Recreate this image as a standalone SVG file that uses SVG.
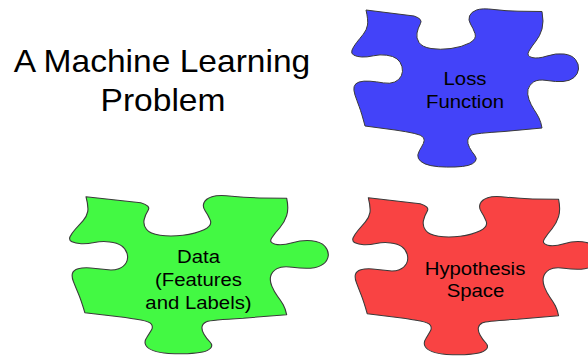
<svg xmlns="http://www.w3.org/2000/svg" xmlns:xlink="http://www.w3.org/1999/xlink" width="588" height="364" viewBox="0 0 588 364">
<style>
.piece{stroke:#3a3a3a;stroke-width:1;stroke-linejoin:round;vector-effect:non-scaling-stroke}
.lbl{font-family:"Liberation Sans",Arial,Helvetica,sans-serif;font-size:18.5px;fill:#000;text-anchor:middle}
.title{font-family:"Liberation Sans",Arial,Helvetica,sans-serif;font-size:30.5px;fill:#000;text-anchor:middle}
</style>
<defs>
<path id="piece" d="M0,0 L48,6 Q57,9 54.5,13.5 Q52,18 51,23 Q50,28 53,32.5 Q56,37 65,38.5 Q74,40 85,38.5 Q96,37 103.5,33 Q111,29 109,23.5 Q107,18 104.5,14 Q102,10 103.5,6 Q105,2 110.5,0 Q116,-2 128,-0.5 Q140,1 152,1.2 L176,1.5 Q178,12 176,19 Q174,26 170,31 Q166,36 163,41 Q160,46 166,47.5 Q172,49 181,46 Q190,43 198,44 Q206,45 209.5,49.5 Q213,54 212.5,59 Q212,64 208,67.5 Q204,71 197,71.5 Q190,72 181,70.5 Q172,69 167.5,72 Q163,75 162,79.5 Q161,84 163,89.5 Q165,95 168,99.5 Q171,104 173,108 Q175,112 176,118 L138,121.5 Q109,123.3 105.7,125 Q102.3,126.7 101.8,130 Q101.3,133.3 103.5,137.5 Q105.7,141.7 108.6,145.1 Q111.5,148.5 109.4,151.3 Q107.3,154 102.3,155.4 Q97.3,156.7 89,157 Q80.7,157.3 72.4,156.7 Q64,156 59,153.9 Q54,151.7 52.4,148.4 Q50.8,145 53.3,140.9 Q55.7,136.7 57.4,133.4 Q59,130 57.4,127.5 Q55.7,125 48.2,123.4 Q40.7,121.7 29,120 L-1,116 Q-4.3,103.3 -6.8,96.7 Q-9.3,90 -11,85 Q-12.7,80 -11.9,76.7 Q-11,73.3 -6.9,72 Q-2.7,70.7 4,71.2 Q10.7,71.7 17.4,72.9 Q24,74 28.7,72 Q33.3,70 35.3,65.9 Q37.3,61.7 36,56.7 Q34.7,51.7 31,48.9 Q27.3,46 20.7,45.2 Q14,44.3 7.4,45.8 Q0.7,47.3 -4.3,47 Q-9.3,46.7 -12.3,45.1 Q-15.3,43.5 -14,40.1 Q-12.7,36.7 -9.4,32.5 Q-6,28.3 -2.7,24.2 Q0.7,20 1.5,15 Q2.3,10 0,0 Z"/>
</defs>
<g id="title">
<text class="title" transform="translate(162,71.7) scale(1.1,1)">A Machine Learning</text>
<text class="title" transform="translate(163,110.7) scale(1.1,1)">Problem</text>
</g>
<g id="loss-function">
<use xlink:href="#piece" href="#piece" class="piece" fill="#4343F9" transform="translate(366,10)"/>
<text class="lbl" transform="translate(465,85) scale(1.1,1)">Loss</text>
<text class="lbl" transform="translate(465,107.7) scale(1.1,1)">Function</text>
</g>
<g id="data">
<use xlink:href="#piece" href="#piece" class="piece" fill="#43F943" transform="translate(86,196.7) scale(1.14,1)"/>
<text class="lbl" transform="translate(198.5,262.7) scale(1.1,1)">Data</text>
<text class="lbl" transform="translate(198.5,286) scale(1.1,1)">(Features</text>
<text class="lbl" transform="translate(198.5,309.3) scale(1.1,1)">and Labels)</text>
</g>
<g id="hypothesis-space">
<use xlink:href="#piece" href="#piece" class="piece" fill="#F94343" transform="translate(368.3,197.7) scale(1.081,1)"/>
<text class="lbl" transform="translate(475,275) scale(1.1,1)">Hypothesis</text>
<text class="lbl" transform="translate(475.5,297) scale(1.1,1)">Space</text>
</g>
</svg>
